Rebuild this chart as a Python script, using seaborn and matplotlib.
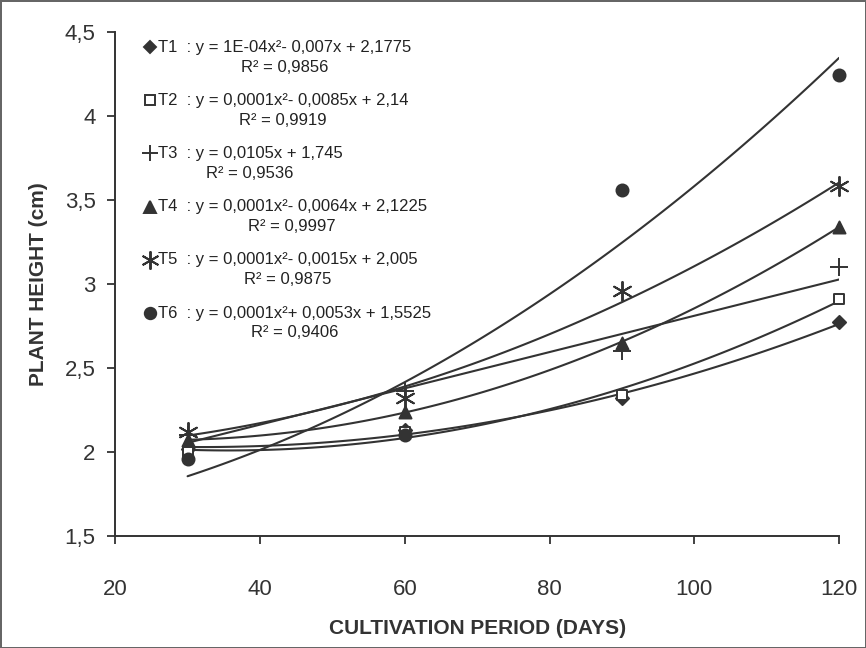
import numpy as np
import pandas as pd
import matplotlib
matplotlib.use("Agg")
import matplotlib.pyplot as plt
from matplotlib.lines import Line2D
import seaborn as sns

# data
days = [30, 60, 90, 120]
t1 = [2.02, 2.13, 2.32, 2.77]
t2 = [2.00, 2.12, 2.34, 2.91]
t3 = [2.10, 2.36, 2.60, 3.10]
t4 = [2.07, 2.24, 2.65, 3.34]
t5 = [2.12, 2.32, 2.96, 3.58]
t6 = [1.96, 2.10, 3.56, 4.24]

names = ["T1", "T2", "T3", "T4", "T5", "T6"]
equations = ["y = 1E-04x²- 0,007x + 2,1775",
             "y = 0,0001x²- 0,0085x + 2,14",
             "y = 0,0105x + 1,745",
             "y = 0,0001x²- 0,0064x + 2,1225",
             "y = 0,0001x²- 0,0015x + 2,005",
             "y = 0,0001x²+ 0,0053x + 1,5525"]
r2 = ["0,9856", "0,9919", "0,9536", "0,9997", "0,9875", "0,9406"]
orders = [2, 2, 1, 2, 2, 2]

df = pd.DataFrame({"day": days, "T1": t1, "T2": t2, "T3": t3,
                   "T4": t4, "T5": t5, "T6": t6})

sns.set_theme(style="ticks")
plt.rcParams['font.family'] = ['Liberation Sans', 'DejaVu Sans']

dark = "#333333"
markers = ["D", "s", "+", "^", (6, 2, 0), "o"]
sizes = [45, 55, 150, 75, 190, 75]
faces = [dark, "white", dark, dark, dark, dark]

fig = plt.figure(figsize=(8.66, 6.48), dpi=100)
fig.patch.set_edgecolor("#666666")
fig.patch.set_linewidth(2)
ax = fig.add_axes([0.133, 0.173, 0.836, 0.778])

# trend lines (polynomial fits done by seaborn)
for i, n in enumerate(names):
    sns.regplot(data=df, x="day", y=n, order=orders[i], ci=None, scatter=False,
                ax=ax, line_kws={"color": dark, "lw": 1.5})

handles = []
labels = []
for i, n in enumerate(names):
    sns.scatterplot(data=df, x="day", y=n, marker=markers[i], s=sizes[i],
                    color=faces[i], edgecolor=dark, linewidth=1.4, ax=ax,
                    zorder=5, clip_on=False)
    h = Line2D([], [], linestyle="none", marker=markers[i],
               markersize=np.sqrt(sizes[i]) * 0.95,
               markerfacecolor=faces[i], markeredgecolor=dark,
               markeredgewidth=1.4)
    handles.append(h)
    labels.append(n + "  : " + equations[i] + "\nR² = " + r2[i])

fs = 12
leg = ax.legend(handles, labels, loc="upper left", frameon=False,
                bbox_to_anchor=(0.03, 0.997), fontsize=fs, handlelength=0.75,
                handletextpad=0.1, labelspacing=1.1, borderaxespad=0)
for t in leg.get_texts():
    t.set_multialignment("center")
    t.set_linespacing(1.4)
    t.set_color("#222222")
# put each marker on the first text line
for h in leg.legend_handles:
    h.set_ydata(np.asarray(h.get_ydata()) + 0.62 * fs)

ax.set_xlim(20, 120)
ax.set_ylim(1.5, 4.5)
ax.set_xticks([20, 40, 60, 80, 100, 120])
yt = [1.5, 2, 2.5, 3, 3.5, 4, 4.5]
ax.set_yticks(yt)
ax.set_yticklabels([("%g" % v).replace(".", ",") for v in yt])
ax.tick_params(labelsize=16, colors="#333333", length=6, width=1.3)
ax.tick_params(axis="x", pad=25)
ax.tick_params(axis="y", pad=8)
for s in ["left", "bottom"]:
    ax.spines[s].set_color(dark)
    ax.spines[s].set_linewidth(1.4)
sns.despine(ax=ax)

ax.set_xlabel("CULTIVATION PERIOD (DAYS)", fontsize=15, fontweight="bold",
              color=dark, labelpad=14)
ax.set_ylabel("PLANT HEIGHT (cm)", fontsize=15, fontweight="bold",
              color=dark, labelpad=12)

fig.savefig("out.png", dpi=100)
